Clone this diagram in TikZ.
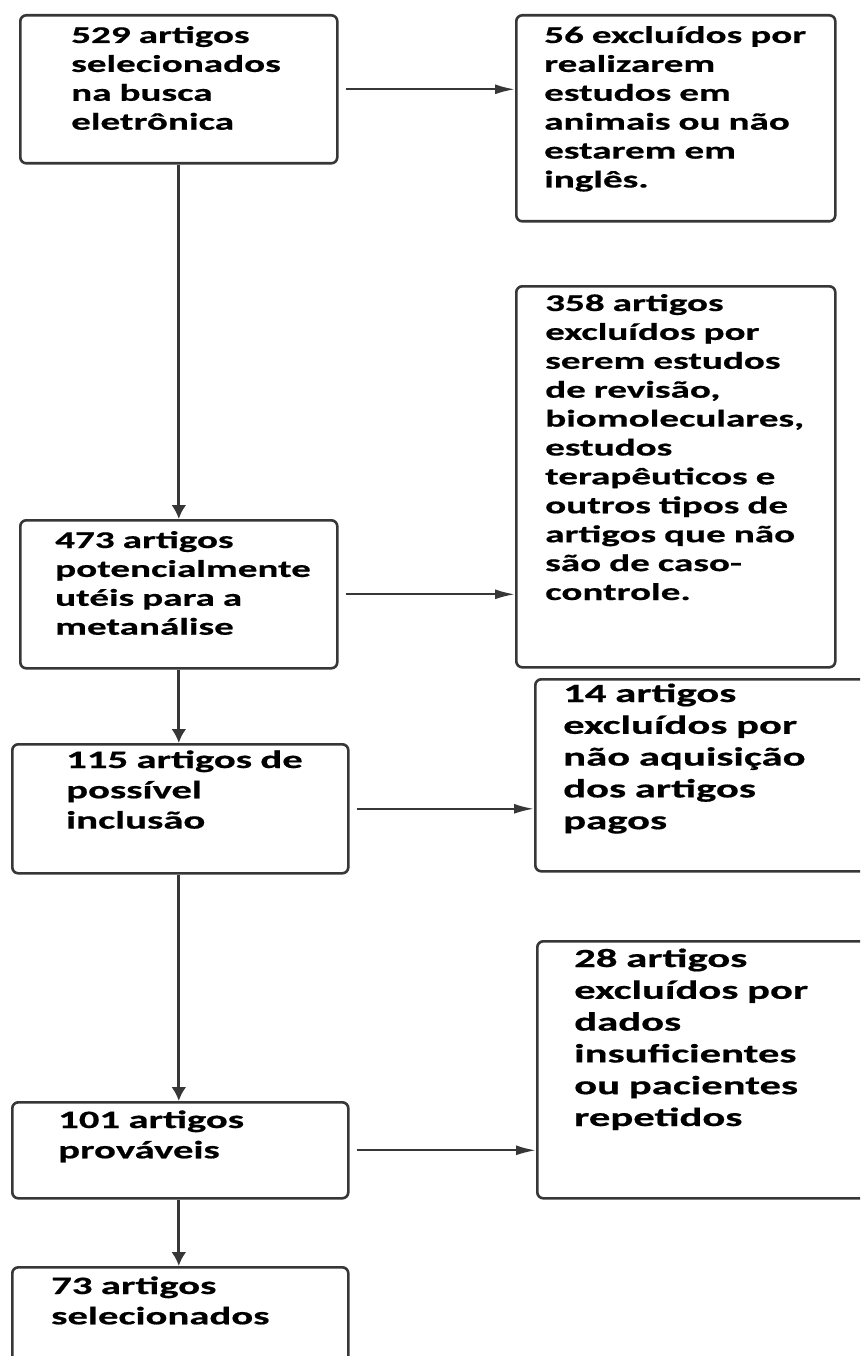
\documentclass[tikz,border=0pt]{standalone}
\usepackage{fontspec}
\setmainfont{Carlito}[FakeStretch=1.63, BoldFeatures={FakeBold=0.6}]
\definecolor{FlowLine}{RGB}{55, 55, 55}
\usetikzlibrary{arrows.meta, positioning}
\tikzset{
  box/.style={rectangle, rounded corners=6pt, draw=FlowLine, fill=white,
              line width=2.6pt, anchor=north west, inner sep=0pt},
  txt/.style={anchor=base west, inner sep=0pt, text width=320pt, align=left,
              text=black, font=\fontsize{24}{28.9}\selectfont\bfseries},
  txtmid/.style={txt, font=\fontsize{25}{30.3}\selectfont\bfseries},
  txtbig/.style={txt, font=\fontsize{26.2}{31.8}\selectfont\bfseries},
  harr/.style={-{Latex[length=20pt, width=10pt]}, line width=2.2pt,
               color=FlowLine, shorten <=7pt},
  varr/.style={-{Latex[length=14pt, width=15pt]}, line width=3pt,
               color=FlowLine},
}
\begin{document}
\begin{tikzpicture}[x=1pt, y=-1pt]
      \useasboundingbox (0,0) rectangle (860,1356);
      \clip (0,0) rectangle (860,1356);

      % Selection steps
      \node[box, minimum width=317pt, minimum height=148pt] (busca) at (19,14) {};
      \node[box, minimum width=317pt, minimum height=148pt] (uteis) at (19,519) {};
      \node[box, minimum width=336pt, minimum height=129pt] (possivel) at (11,743) {};
      \node[box, minimum width=336pt, minimum height=96pt] (provaveis) at (11,1101) {};
      \node[box, minimum width=336pt, minimum height=130pt] (final) at (11,1266) {};

      % Exclusions
      \node[box, minimum width=319pt, minimum height=206pt] (exAnimais) at (515,14) {};
      \node[box, minimum width=319pt, minimum height=381pt] (exRevisao) at (515,285) {};
      \node[box, minimum width=346pt, minimum height=192pt] (exPagos) at (534,678) {};
      \node[box, minimum width=344pt, minimum height=257pt] (exDados) at (536,940) {};

      % Texts
      \node[txt] (buscaTxt) at ([shift={(52,29)}]busca.north west)
        {529 artigos\\selecionados\\na busca\\eletrônica};
      \node[txt] (uteisTxt) at ([shift={(36,29)}]uteis.north west)
        {473 artigos\\potencialmente\\utéis para a\\metanálise};
      \node[txtmid] (possivelTxt) at ([shift={(55,25)}]possivel.north west)
        {115 artigos de\\possível\\inclusão};
      \node[txtmid] (provaveisTxt) at ([shift={(47,27)}]provaveis.north west)
        {101 artigos\\prováveis};
      \node[txtmid] (finalTxt) at ([shift={(40,28)}]final.north west)
        {73 artigos\\selecionados};
      \node[txt] (exAnimaisTxt) at ([shift={(29,29)}]exAnimais.north west)
        {56 excluídos por\\realizarem\\estudos em\\animais ou não\\estarem em\\inglês.};
      \node[txt] (exRevisaoTxt) at ([shift={(30,26)}]exRevisao.north west)
        {358 artigos\\excluídos por\\serem estudos\\de revisão,\\biomoleculares,\\estudos\\terapêuticos e\\outros tipos de\\artigos que não\\são de caso-\\controle.};
      \node[txtbig] (exPagosTxt) at ([shift={(29,24)}]exPagos.north west)
        {14 artigos\\excluídos por\\não aquisição\\dos artigos\\pagos};
      \node[txtbig] (exDadosTxt) at ([shift={(38,27)}]exDados.north west)
        {28 artigos\\excluídos por\\dados\\insuficientes\\ou pacientes\\repetidos};

      \draw[varr] (busca.south) -- (uteis.north);
      \draw[varr] (uteis.south) -- (uteis.south |- possivel.north);
      \draw[varr] (uteis.south |- possivel.south) -- (uteis.south |- provaveis.north);
      \draw[varr] (uteis.south |- provaveis.south) -- (uteis.south |- final.north);

      \draw[harr] (busca.east) -- (busca.east -| exAnimais.west);
      \draw[harr] (uteis.east) -- (uteis.east -| exRevisao.west);
      \draw[harr] (possivel.east) -- (possivel.east -| exPagos.west);
      \draw[harr] (provaveis.east) -- (provaveis.east -| exDados.west);
    \end{tikzpicture}
\end{document}
